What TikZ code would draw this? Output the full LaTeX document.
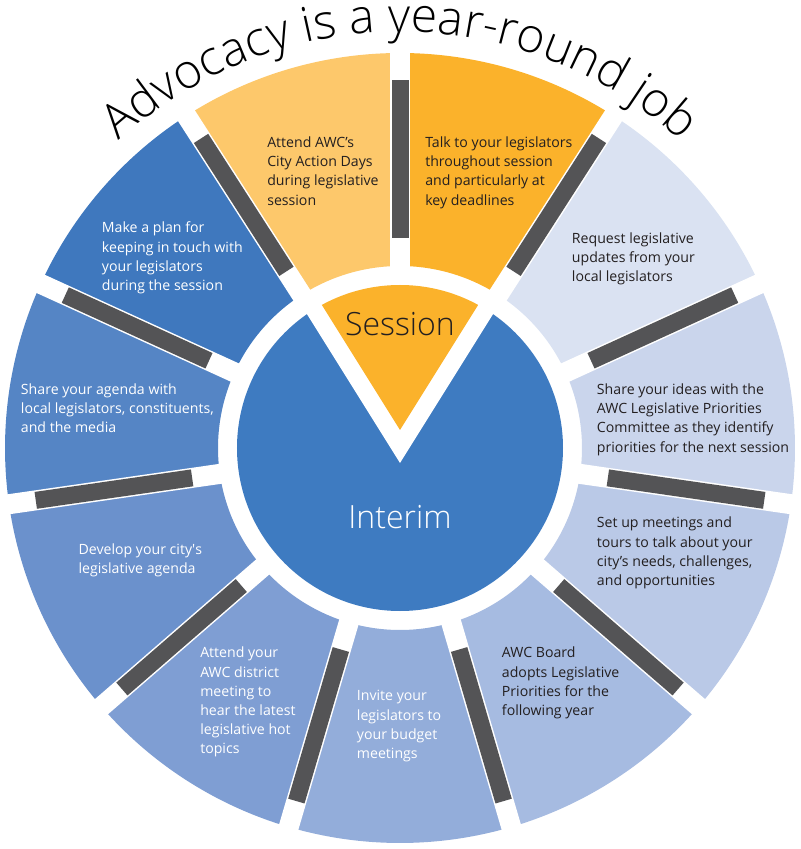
\documentclass[tikz,border=0pt]{standalone}
\usepackage{fontspec}
\setmainfont{Open Sans}
\IfFontExistsTF{Open Sans Light}{\newfontfamily\titlefont{Open Sans Light}}{\newfontfamily\titlefont{Open Sans}}
\usetikzlibrary{decorations.text}
\definecolor{GoldLight}{HTML}{FDC86B}
\definecolor{Gold}{HTML}{FBB22B}
\definecolor{BlueA}{HTML}{DAE2F2}
\definecolor{BlueB}{HTML}{CAD5EC}
\definecolor{BlueC}{HTML}{BAC9E7}
\definecolor{BlueD}{HTML}{A6BBE1}
\definecolor{BlueE}{HTML}{93ADDA}
\definecolor{BlueF}{HTML}{7F9ED3}
\definecolor{BlueG}{HTML}{6B91CC}
\definecolor{BlueH}{HTML}{5585C5}
\definecolor{BlueI}{HTML}{3F78BE}
\definecolor{Interim}{HTML}{3E7BC1}
\definecolor{BarGray}{HTML}{545456}
\definecolor{InkDark}{HTML}{231F20}
\begin{document}
\begin{tikzpicture}[x=0.75pt, y=0.75pt,
  lab/.style={anchor=north west, align=left, inner sep=0pt, text=InkDark, font=\fontsize{10.6}{14.4}\selectfont},
  labw/.style={lab, text=white},
  gap/.style={draw=white, line width=15pt},
  bar/.style={draw=BarGray, line width=12.75pt},
  big/.style={inner sep=0pt, font=\titlefont\fontsize{24}{26}\selectfont}]
\useasboundingbox (-400,-401) rectangle (400,448);
% ring, clockwise from the top
\fill[Gold] (57.27:182) arc[start angle=57.27, end angle=90, radius=182] -- (90:395) arc[start angle=90, end angle=57.27, radius=395] -- cycle;
\fill[BlueA] (24.55:182) arc[start angle=24.55, end angle=57.27, radius=182] -- (57.27:395) arc[start angle=57.27, end angle=24.55, radius=395] -- cycle;
\fill[BlueB] (-8.18:182) arc[start angle=-8.18, end angle=24.55, radius=182] -- (24.55:395) arc[start angle=24.55, end angle=-8.18, radius=395] -- cycle;
\fill[BlueC] (-40.91:182) arc[start angle=-40.91, end angle=-8.18, radius=182] -- (-8.18:395) arc[start angle=-8.18, end angle=-40.91, radius=395] -- cycle;
\fill[BlueD] (-73.64:182) arc[start angle=-73.64, end angle=-40.91, radius=182] -- (-40.91:395) arc[start angle=-40.91, end angle=-73.64, radius=395] -- cycle;
\fill[BlueE] (-106.36:182) arc[start angle=-106.36, end angle=-73.64, radius=182] -- (-73.64:395) arc[start angle=-73.64, end angle=-106.36, radius=395] -- cycle;
\fill[BlueF] (-139.09:182) arc[start angle=-139.09, end angle=-106.36, radius=182] -- (-106.36:395) arc[start angle=-106.36, end angle=-139.09, radius=395] -- cycle;
\fill[BlueG] (-171.82:182) arc[start angle=-171.82, end angle=-139.09, radius=182] -- (-139.09:395) arc[start angle=-139.09, end angle=-171.82, radius=395] -- cycle;
\fill[BlueH] (155.45:182) arc[start angle=155.45, end angle=188.18, radius=182] -- (188.18:395) arc[start angle=188.18, end angle=155.45, radius=395] -- cycle;
\fill[BlueI] (122.73:182) arc[start angle=122.73, end angle=155.45, radius=182] -- (155.45:395) arc[start angle=155.45, end angle=122.73, radius=395] -- cycle;
\fill[GoldLight] (90:182) arc[start angle=90, end angle=122.73, radius=182] -- (122.73:395) arc[start angle=122.73, end angle=90, radius=395] -- cycle;
% gaps and bars
\draw[gap] (90:176) -- (90:399); \draw[gap] (57.27:176) -- (57.27:399); \draw[gap] (24.55:176) -- (24.55:399); \draw[gap] (-8.18:176) -- (-8.18:399);
\draw[gap] (-40.91:176) -- (-40.91:399); \draw[gap] (-73.64:176) -- (-73.64:399); \draw[gap] (-106.36:176) -- (-106.36:399); \draw[gap] (-139.09:176) -- (-139.09:399);
\draw[gap] (-171.82:176) -- (-171.82:399); \draw[gap] (155.45:176) -- (155.45:399); \draw[gap] (122.73:176) -- (122.73:399);
\draw[bar] (90:210) -- (90:368); \draw[bar] (57.27:210) -- (57.27:368); \draw[bar] (24.55:210) -- (24.55:368); \draw[bar] (-8.18:210) -- (-8.18:368);
\draw[bar] (-40.91:210) -- (-40.91:368); \draw[bar] (-73.64:210) -- (-73.64:368); \draw[bar] (-106.36:210) -- (-106.36:368); \draw[bar] (-139.09:210) -- (-139.09:368);
\draw[bar] (-171.82:210) -- (-171.82:368); \draw[bar] (155.45:210) -- (155.45:368); \draw[bar] (122.73:210) -- (122.73:368);
% hub
\fill[Interim] (0,0) circle[radius=163];
\begin{scope}
\clip (0,0) circle[radius=178];
\fill[white] (0,-15) -- +(58:280) -- +(122:280) -- cycle;
\end{scope}
\begin{scope}
\clip (0,0) circle[radius=163];
\fill[Gold] (0,18) -- +(58:280) -- +(122:280) -- cycle;
\end{scope}
\node[big, text=InkDark] (session) at (0,124) {Session};
\node[big, text=white] (interim) at (0,-69) {Interim};
% title
\path[decorate, decoration={text along path, text align=center, text format delimiters={|}{|},
  text={|\titlefont\fontsize{36}{40}\selectfont|Advocacy is a year-round job}}]
  (137:416) arc[start angle=137, end angle=43, radius=416];
% segment texts
\node[lab] (actiondays) at (-133,311.5) {Attend AWC’s\\City Action Days\\during legislative\\session};
\node[lab] (talk) at (25,311.5) {Talk to your legislators\\throughout session\\and particularly at\\key deadlines};
\node[lab] (updates) at (171.7,216) {Request legislative\\updates from your\\local legislators};
\node[lab] (ideas) at (196.7,64.5) {Share your ideas with the\\AWC Legislative Priorities\\Committee as they identify\\priorities for the next session};
\node[lab] (meetings) at (196.7,-68.8) {Set up meetings and\\tours to talk about your\\city’s needs, challenges,\\and opportunities};
\node[lab] (board) at (101.7,-198.8) {AWC Board\\adopts Legislative\\Priorities for the\\following year};
\node[labw] (invite) at (-43.3,-242.2) {Invite your\\legislators to\\your budget\\meetings};
\node[labw] (district) at (-200,-198.8) {Attend your\\AWC district\\meeting to\\hear the latest\\legislative hot\\topics};
\node[labw] (develop) at (-321.7,-95.5) {Develop your city\textquotesingle s\\legislative agenda};
\node[labw] (agenda) at (-379.3,64.5) {Share your agenda with\\local legislators, constituents,\\and the media};
\node[labw] (plan) at (-298.3,226.2) {Make a plan for\\keeping in touch with\\your legislators\\during the session};
\end{tikzpicture}
\end{document}
